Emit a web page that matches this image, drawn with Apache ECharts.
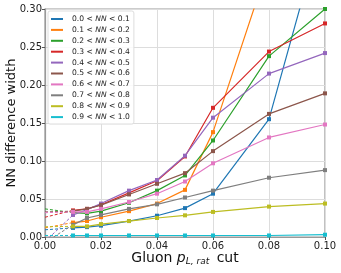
<!DOCTYPE html>
<html><head><meta charset="utf-8">
<script src="https://cdn.jsdelivr.net/npm/echarts@6/dist/echarts.min.js"></script>
<style>html,body{margin:0;padding:0;background:#fff}#c{width:341px;height:273px}</style>
</head><body><div id="c"></div>
<script>
const xCuts = [0.01, 0.015, 0.02, 0.03, 0.04, 0.05, 0.06, 0.08, 0.10];
const binLabels = ['0.0','0.1','0.2','0.3','0.4','0.5','0.6','0.7','0.8','0.9','1.0'];
const colors = ['#1f77b4','#ff7f0e','#2ca02c','#d62728','#9467bd','#8c564b','#e377c2','#7f7f7f','#bcbd22','#17becf'];
const w00_01 = [0.012, 0.013, 0.015, 0.021, 0.028, 0.038, 0.057, 0.155, 0.42];
const w01_02 = [0.019, 0.021, 0.026, 0.034, 0.044, 0.062, 0.138, 0.36, 0.50];
const w02_03 = [0.032, 0.031, 0.034, 0.045, 0.061, 0.081, 0.127, 0.238, 0.300];
const w03_04 = [0.035, 0.037, 0.0425, 0.058, 0.074, 0.106, 0.170, 0.244, 0.281];
const w04_05 = [0.029, 0.036, 0.044, 0.061, 0.075, 0.107, 0.157, 0.215, 0.242];
const w05_06 = [0.034, 0.037, 0.042, 0.056, 0.070, 0.084, 0.113, 0.162, 0.189];
const w06_07 = [0.033, 0.033, 0.037, 0.046, 0.057, 0.073, 0.097, 0.131, 0.148];
const w07_08 = [0.016, 0.025, 0.029, 0.037, 0.043, 0.052, 0.061, 0.078, 0.088];
const w08_09 = [0.014, 0.014, 0.017, 0.021, 0.025, 0.0285, 0.033, 0.040, 0.044];
const w09_10 = [0.002, 0.002, 0.002, 0.002, 0.002, 0.002, 0.002, 0.002, 0.003];
const widths = [w00_01,w01_02,w02_03,w03_04,w04_05,w05_06,w06_07,w07_08,w08_09,w09_10];
// extrapolated values at cut = 0 (dashed)
const extrapAtZero = [0.0095, 0.012, 0.037, 0.026, -0.006, 0.033, 0.032, -0.007, 0.0135, 0.002];
const xTicks = [0.00, 0.02, 0.04, 0.06, 0.08, 0.10];
const yTicks = [0.00, 0.05, 0.10, 0.15, 0.20, 0.25, 0.30];

const names = widths.map((_, i) => binLabels[i] + ' < NN < ' + binLabels[i+1]);
const series = [];
widths.forEach((vals, i) => {
  series.push({
    name: names[i], type: 'line', data: xCuts.map((x, j) => [x, vals[j]]),
    itemStyle: {color: colors[i]}, lineStyle: {width: 1.2, color: colors[i]},
    symbol: 'rect', symbolSize: 4, showSymbol: true, clip: true, z: 3 + i * 0.01
  });
  series.push({
    name: 'extrap' + i, type: 'line', data: [[0, extrapAtZero[i]], [xCuts[0], vals[0]]],
    itemStyle: {color: colors[i]}, lineStyle: {width: 1, type: [3, 2], color: colors[i]},
    symbol: 'none', clip: true, z: 2
  });
});

const chart = echarts.init(document.getElementById('c'));
chart.setOption({
  animation: false,
  grid: {left: 45, right: 16, top: 9, bottom: 36, show: true, borderColor: '#999', borderWidth: 1.2,
    containLabel: false, outerBoundsMode: 'none'},
  legend: {
    data: names, orient: 'vertical', left: 48, top: 11,
    itemWidth: 12, itemHeight: 2, itemGap: 2.9, icon: 'rect',
    backgroundColor: 'rgba(255,255,255,0.85)', borderColor: '#ddd', borderWidth: 1, borderRadius: 2,
    padding: [4, 4, 3, 3],
    textStyle: {fontSize: 7.6, color: '#222', fontFamily: 'DejaVu Sans', padding: [0, 0, 0, 4],
      rich: {i: {fontStyle: 'italic', fontSize: 7.6, fontFamily: 'DejaVu Sans'}}},
    formatter: n => { const p = n.split(' < NN < '); return p[0] + ' < {i|NN} < ' + p[1]; }
  },
  xAxis: {
    type: 'value', min: 0, max: 0.1, interval: 0.02,
    axisLine: {show: true, lineStyle: {color: '#999', width: 1.2}},
    axisTick: {show: true, length: 3, lineStyle: {color: '#555'}},
    axisLabel: {fontSize: 10, color: '#222', fontFamily: 'DejaVu Sans', margin: 4,
      formatter: v => v.toFixed(2)},
    splitLine: {lineStyle: {color: '#ddd', width: 1}},
    name: 'Gluon {i|p}{sub|L, rat} cut', nameLocation: 'middle', nameGap: 13, nameMoveOverlap: false,
    nameTextStyle: {fontSize: 14, color: '#111', fontFamily: 'DejaVu Sans', verticalAlign: 'top',
      rich: {i: {fontStyle: 'italic', fontSize: 14, fontFamily: 'DejaVu Sans'},
             sub: {fontStyle: 'italic', fontSize: 9, fontFamily: 'DejaVu Sans', padding: [7, 3, 0, 0]}}}
  },
  yAxis: {
    type: 'value', min: 0, max: 0.3, interval: 0.05,
    axisLine: {show: true, lineStyle: {color: '#999', width: 1.2}},
    axisTick: {show: true, length: 3, lineStyle: {color: '#555'}},
    axisLabel: {fontSize: 10, color: '#222', fontFamily: 'DejaVu Sans', margin: 3,
      formatter: v => v.toFixed(2)},
    splitLine: {lineStyle: {color: '#ddd', width: 1}},
    name: 'NN difference width', nameLocation: 'middle', nameGap: 27, nameMoveOverlap: false,
    nameTextStyle: {fontSize: 13, color: '#111', fontFamily: 'DejaVu Sans'}
  },
  series: series
});
</script></body></html>
